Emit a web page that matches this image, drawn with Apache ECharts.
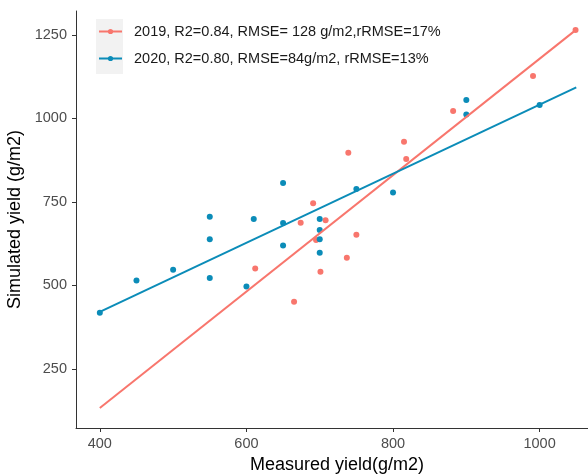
<!DOCTYPE html>
<html>
<head>
<meta charset="utf-8">
<script src="https://cdn.jsdelivr.net/npm/echarts@6/dist/echarts.min.js"></script>
<style>
  html, body { margin: 0; padding: 0; background: #fff; }
  #main { width: 588px; height: 476px; }
</style>
</head>
<body>
<div id="main"></div>
<script>
var seriesNames = [
    '2019, R2=0.84, RMSE= 128 g/m2,rRMSE=17%',
    '2020, R2=0.80, RMSE=84g/m2, rRMSE=13%'
];

// measured vs simulated yield (g/m2)
var points2019 = [
    [612, 551], [665, 451], [674, 688], [691, 746], [695, 636],
    [701, 541], [708, 695], [737, 583], [739, 897], [750, 652],
    [815, 930], [818, 879], [882, 1022], [991, 1127], [1049, 1265]
];
var points2020 = [
    [400, 418], [450, 515], [500, 547], [550, 706], [550, 638],
    [550, 522], [600, 497], [610, 699], [650, 807], [650, 687],
    [650, 620], [700, 699], [700, 666], [700, 638], [700, 598],
    [750, 789], [800, 778], [900, 1055], [900, 1012], [1000, 1040]
];

// fitted lines, end points
var fit2019 = [[400, 133], [1050, 1266]];
var fit2020 = [[400, 421], [1050, 1093]];

var xTicks = [400, 600, 800, 1000];
var yTicks = [250, 500, 750, 1000, 1250];

var red = '#F8766D';
var blue = '#0b8cb8';
var font = 'Liberation Sans';

var chart = echarts.init(document.getElementById('main'));

function plain(v) {
    return String(v);
}

var option = {
    animation: false,
    grid: {
        left: 76,
        right: 0,
        top: 11,
        bottom: 48,
        outerBoundsMode: 'none'
    },
    graphic: [{
        type: 'rect',
        z: 0,
        shape: { x: 96, y: 19, width: 27, height: 55 },
        style: { fill: '#F2F2F2' }
    }],
    legend: {
        orient: 'vertical',
        left: 98,
        top: 24,
        padding: 0,
        itemWidth: 23,
        itemHeight: 6.5,
        itemGap: 12,
        data: seriesNames,
        textStyle: {
            fontFamily: font,
            fontSize: 14.5,
            color: '#1a1a1a',
            padding: [0, 0, 0, 7]
        }
    },
    xAxis: {
        type: 'value',
        min: 367.5,
        max: 1066,
        name: 'Measured yield(g/m2)',
        nameLocation: 'middle',
        nameGap: 27,
        nameTextStyle: {
            fontFamily: font,
            fontSize: 18,
            color: '#000',
            padding: [0, 0, 0, 10]
        },
        axisLine: { lineStyle: { color: '#333', width: 1 } },
        axisTick: {
            length: 4,
            lineStyle: { color: '#333' },
            customValues: xTicks
        },
        axisLabel: {
            margin: 8,
            fontFamily: font,
            fontSize: 14.5,
            color: '#4D4D4D',
            formatter: plain,
            customValues: xTicks
        },
        splitLine: { show: false }
    },
    yAxis: {
        type: 'value',
        min: 73.25,
        max: 1321.75,
        name: 'Simulated yield (g/m2)',
        nameLocation: 'middle',
        nameGap: 42,
        nameTextStyle: {
            fontFamily: font,
            fontSize: 18,
            color: '#000'
        },
        axisLine: { show: true, lineStyle: { color: '#333', width: 1 } },
        axisTick: {
            show: true,
            length: 4,
            lineStyle: { color: '#333' },
            customValues: yTicks
        },
        axisLabel: {
            margin: 9,
            fontFamily: font,
            fontSize: 14.5,
            color: '#4D4D4D',
            formatter: plain,
            customValues: yTicks
        },
        splitLine: { show: false }
    },
    series: [{
        name: seriesNames[0],
        type: 'line',
        data: fit2019,
        symbol: 'circle',
        showSymbol: false,
        color: red,
        lineStyle: { width: 2, color: red },
        z: 3
    }, {
        name: seriesNames[1],
        type: 'line',
        data: fit2020,
        symbol: 'circle',
        showSymbol: false,
        color: blue,
        lineStyle: { width: 2, color: blue },
        z: 3
    }, {
        name: seriesNames[0],
        type: 'scatter',
        data: points2019,
        symbolSize: 6,
        itemStyle: { color: red, opacity: 1 },
        z: 2
    }, {
        name: seriesNames[1],
        type: 'scatter',
        data: points2020,
        symbolSize: 6,
        itemStyle: { color: blue, opacity: 1 },
        z: 2
    }]
};

chart.setOption(option);
</script>
</body>
</html>
